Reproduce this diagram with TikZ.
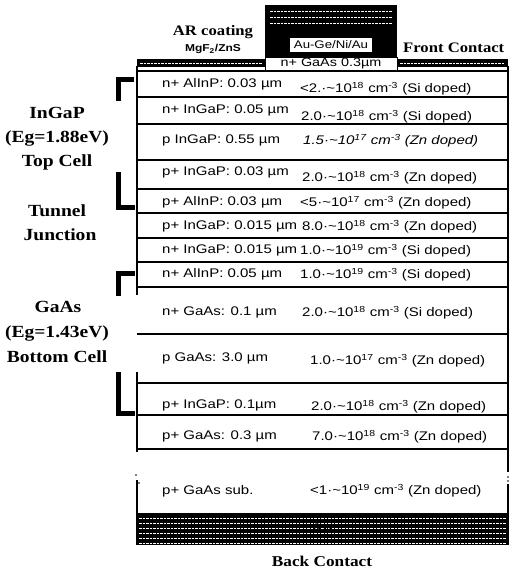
\documentclass[tikz,border=0pt]{standalone}
\usepackage{fontspec}
\setmainfont{Liberation Serif}
\newfontfamily\laysans[FakeStretch=1.2]{Liberation Sans}
\newfontfamily\labserif[FakeStretch=1.15]{Liberation Serif}
\tikzset{
  layertxt/.style={anchor=west, inner sep=0pt, font=\laysans\fontsize{12.5}{14}\selectfont},
  doptxt/.style={layertxt},
  sidelbl/.style={inner sep=0pt, font=\labserif\bfseries\fontsize{17}{19}\selectfont},
  toplbl/.style={inner sep=0pt, font=\labserif\bfseries\fontsize{14.5}{16}\selectfont},
  bracket/.style={line width=5pt, line cap=butt, line join=miter},
  rowline/.style={line width=1.1pt},
  frameline/.style={line width=1.5pt},
  hatch/.style={white, line width=0.6pt, dash pattern=on 2.5pt off 1pt},
}
\newcommand{\dop}[3]{#1·\textasciitilde10\textsuperscript{#2} cm\textsuperscript{-3} #3}
\begin{document}
\begin{tikzpicture}[x=1pt,y=-1pt]
\useasboundingbox (0,0) rectangle (512,571);
% ---- front contact
\fill (265,5) rectangle (397,58);
\foreach \yy in {11,17,23} \draw[hatch] (270,\yy) -- (392,\yy);
\node[fill=white, inner sep=0pt, minimum width=82pt, minimum height=14pt,
      font=\laysans\fontsize{11}{12}\selectfont] (auge) at (331,45) {Au-Ge/Ni/Au};
% ---- AR coating bands
\fill (137,59) rectangle (265,67);
\fill (397,59) rectangle (508,67);
\draw[hatch] (140,63) -- (262,63);
\draw[hatch] (400,63) -- (505,63);
\node[draw, line width=1pt, fill=white, inner sep=0pt, minimum width=132pt, minimum height=13pt,
      font=\laysans\fontsize{12}{13}\selectfont] (cap) at (331,64) {n+ GaAs 0.3µm};
% ---- frame
\draw[frameline] (137,71) -- (508,71);
\draw[frameline] (137,66) -- (137,295);
\draw[frameline] (137,372) -- (137,452);
\draw[frameline] (137,480) -- (137,545);
\draw[frameline] (508,66) -- (508,472);
\draw[frameline] (508,484) -- (508,545);
\fill (136,475) circle (0.8); \fill (139,483) circle (0.8);
\fill (508,477) circle (0.8); \fill (508,481) circle (0.8);
\foreach \yy in {97,124,160,189,213,238,262,287,334,383,415,449}
  \draw[rowline] (137,\yy) -- (508,\yy);
% ---- back contact
\fill (137,513) rectangle (508,545);
\foreach \yy in {518,523,528,533,538,543} \draw[hatch] (139,\yy) -- (506,\yy);
\node[inner sep=0pt, font=\laysans\bfseries\fontsize{14}{15}\selectfont] (au) at (322,529) {Au};
\node[toplbl, font=\labserif\bfseries\fontsize{15}{16}\selectfont] (back) at (322,561) {Back Contact};
% ---- top labels
\node[toplbl] (ar) at (213,32) {AR coating};
\node[inner sep=0pt, font=\laysans\bfseries\fontsize{10}{11}\selectfont] (mgf) at (213,49) {MgF\textsubscript{2}/ZnS};
\node[toplbl, anchor=west] (front) at (403,48) {Front Contact};
% ---- layer names
\node[layertxt] (l1) at (162,84) {n+ AlInP: 0.03 µm};
\node[layertxt] (l2) at (162,110) {n+ InGaP: 0.05 µm};
\node[layertxt] (l3) at (162,140) {p InGaP: 0.55 µm};
\node[layertxt] (l4) at (162,172) {p+ InGaP: 0.03 µm};
\node[layertxt] (l5) at (162,202) {p+ AlInP: 0.03 µm};
\node[layertxt] (l6) at (162,226) {p+ InGaP: 0.015 µm};
\node[layertxt] (l7) at (162,250) {n+ InGaP: 0.015 µm};
\node[layertxt] (l8) at (162,274) {n+ AlInP: 0.05 µm};
\node[layertxt] (l9) at (162,312) {n+ GaAs: 0.1 µm};
\node[layertxt] (l10) at (162,358) {p GaAs: 3.0 µm};
\node[layertxt] (l11) at (162,405) {p+ InGaP: 0.1µm};
\node[layertxt] (l12) at (162,436) {p+ GaAs: 0.3 µm};
\node[layertxt] (l13) at (162,491) {p+ GaAs sub.};
% ---- doping
\node[doptxt] (d1) at (300,89) {\dop{<2.}{18}{(Si doped)}};
\node[doptxt] (d2) at (301,117) {\dop{2.0}{18}{(Si doped)}};
\node[doptxt] (d3) at (303,141) {\itshape\dop{1.5}{17}{(Zn doped)}};
\node[doptxt] (d4) at (302,178) {\dop{2.0}{18}{(Zn doped)}};
\node[doptxt] (d5) at (300,203) {\dop{<5}{17}{(Zn doped)}};
\node[doptxt] (d6) at (302,227) {\dop{8.0}{18}{(Zn doped)}};
\node[doptxt] (d7) at (300,251) {\dop{1.0}{19}{(Si doped)}};
\node[doptxt] (d8) at (300,275) {\dop{1.0}{19}{(Si doped)}};
\node[doptxt] (d9) at (302,313) {\dop{2.0}{18}{(Si doped)}};
\node[doptxt] (d10) at (310,361) {\dop{1.0}{17}{(Zn doped)}};
\node[doptxt] (d11) at (311,407) {\dop{2.0}{18}{(Zn doped)}};
\node[doptxt] (d12) at (312,437) {\dop{7.0}{18}{(Zn doped)}};
\node[doptxt] (d13) at (310,491) {\dop{<1}{19}{(Zn doped)}};
% ---- brackets
\draw[bracket] (134,79) -- (118,79) -- (118,101);
\draw[bracket] (118,172) -- (118,207) -- (135,207);
\draw[bracket] (135,273) -- (118,273) -- (118,296);
\draw[bracket] (118,372) -- (118,413) -- (135,413);
% ---- side labels
\node[sidelbl] (s1) at (57,113) {InGaP};
\node[sidelbl] (s2) at (57,138) {(Eg=1.88eV)};
\node[sidelbl] (s3) at (57,162) {Top Cell};
\node[sidelbl] (s4) at (57,211) {Tunnel};
\node[sidelbl] (s5) at (60,235) {Junction};
\node[sidelbl] (s6) at (58,307) {GaAs};
\node[sidelbl] (s7) at (57,333) {(Eg=1.43eV)};
\node[sidelbl] (s8) at (57,357) {Bottom Cell};
\end{tikzpicture}
\end{document}
